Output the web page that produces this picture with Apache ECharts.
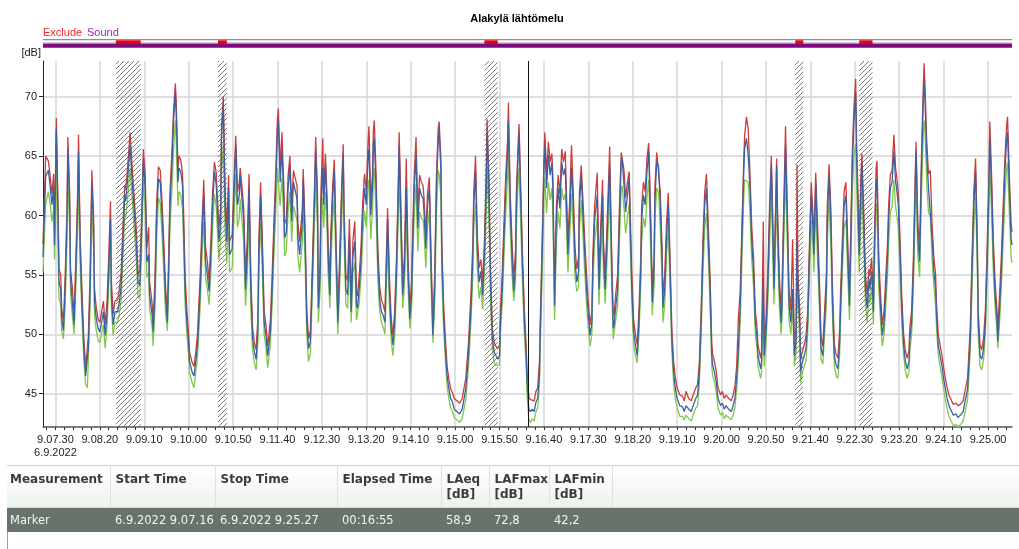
<!DOCTYPE html>
<html>
<head>
<meta charset="utf-8">
<title>Alakylä lähtömelu</title>
<script src="https://cdn.jsdelivr.net/npm/echarts@6/dist/echarts.min.js"></script>
<style>
  html, body { margin: 0; padding: 0; background: #fff; }
  #chart { position: absolute; left: 0; top: 0; width: 1019px; height: 549px; }
  #tbl { position: absolute; left: 7px; top: 465px; }
  #tbl table { border-collapse: collapse; table-layout: fixed; width: 1012px;
    font-family: "DejaVu Sans", sans-serif; font-size: 12px; }
  #tbl th { height: 35px; padding: 6px 0 0 5px; text-align: left; vertical-align: top;
    line-height: 15px; font-weight: bold; color: #3b3b3b;
    background: linear-gradient(#ffffff, #edf2ed);
    border-top: 1px solid #d4d4d4; border-right: 1px solid #dde2dd; border-bottom: 1px solid #d3dbd3; }
  #tbl th:last-child { border-right: none; }
  #tbl td { height: 24px; padding: 0 0 0 5px; background: #67736b; color: #f4f4f4; white-space: nowrap; font-size: 11.5px; }
  #tbl th:first-child, #tbl td:first-child { padding-left: 3px; }
  #below { position: absolute; left: 7px; top: 532px; height: 17px; border-left: 1px solid #a0a0a0; }
</style>
</head>
<body>
<div id="chart"></div>
<div id="tbl"></div>
<div id="below"></div>
<script>
// 9.07.16 .. 9.25.27 as seconds of the day
const START = 32836;
const END = 33927;
const DATE = '6.9.2022';

const xTickLabels = ['9.07.30', '9.08.20', '9.09.10', '9.10.00', '9.10.50', '9.11.40', '9.12.30', '9.13.20',
  '9.14.10', '9.15.00', '9.15.50', '9.16.40', '9.17.30', '9.18.20', '9.19.10', '9.20.00', '9.20.50',
  '9.21.40', '9.22.30', '9.23.20', '9.24.10', '9.25.00'];
const yTicks = [45, 50, 55, 60, 65, 70];

// seconds from start
const times = [
  0,3,6,8,10,12,13,15,17,18, 20,21,23,25,27,28,30,31,33,35, 37,39,40,41,42,44,46,48,50,51,
  53,55,57,58,60,62,64,66,68,70, 72,74,76,77,79,81,84,86,88,90, 92,93,95,97,98,100,102,105,107,109,
  111,113,115,117,119,120,123,124,126,128, 130,132,134,136,138,140,141,143,145,147,
  149,150,152,153,155,157,158,160,162,164, 165,168,170,172,174,177,179,181,183,185,
  187,189,191,193,195,198,200,201,203,205, 207,209,210,213,215,217,219,221,222,224,
  226,228,230,232,234,236,238,240,242,243, 245,247,249,251,253,256,258,260,262,264,
  265,267,269,271,272,274,276,278,280,282, 284,286,287,289,292,293,295,297,299,301,
  302,304,306,307,309,310,312,313,315,316, 318,320,321,323,324,326,328,330,332,334,
  336,338,339,341,343,345,347,349,351,353, 354,356,358,360,362,364,366,367,369,371,
  372,373,375,377,379,381,383,385,386,388, 390,392,394,396,398,400,401,403,405,407,
  409,411,413,415,416,418,420,422,424,426, 428,429,431,433,435,437,439,441,443,445,
  446,448,449,451,453,455,457,459,461,463, 466,469,472,476,479,482,484,485,487,489,
  491,493,495,497,499,500,502,504,506,508, 510,512,514,515,517,519,521,523,524,526,
  528,530,532,533,535,536,538,540,542,544, 545,547,549,551,553,555,557,559,560,562,
  564,565,567,569,571,573,574,576,578,580, 582,584,586,588,589,591,593,595,597,599,
  601,603,604,606,608,610,612,614,616,618, 619,621,624,626,628,630,631,633,635,637,
  638,640,642,643,645,647,649,651,652,654, 656,658,660,661,663,665,667,669,671,673,
  674,676,678,680,682,684,686,688,689,691, 693,695,697,698,700,702,704,706,708,710,
  712,714,717,720,722,724,727,730,732,735, 737,739,741,743,745,747,749,751,753,754,
  756,758,760,763,765,767,769,772,775,777, 779,781,783,785,787,789,790,792,794,796,
  798,800,802,804,805,808,809,811,812,814, 816,818,820,821,823,824,826,827,829,831,
  832,834,836,838,840,842,844,846,848,849, 850,852,853,855,857,859,861,863,865,867,
  868,870,872,874,876,878,880,882,883,885, 887,889,891,893,895,897,898,900,902,904,
  906,908,910,911,913,915,916,918,919,921, 922,924,926,928,930,931,933,935,936,938,
  939,941,943,945,947,949,951,952,954,956, 958,960,961,963,965,967,969,971,973,975,
  976,978,980,982,983,985,987,989,991,992, 993,995,997,999,1001,1003,1005,1006,1008,1010,
  1012,1014,1016,1018,1020,1023,1025,1028,1030,1033, 1036,1038,1041,1042,1044,1046,1048,1050,1052,1053,
  1055,1057,1059,1061,1063,1065,1066,1068,1070,1072, 1074,1075,1077,1079,1081,1083,1085,1086,1088,1090,
  1091
];

const laeq = [
  56.5,63.3,63.8,62.5,60.9,62.3,57.5,67.3,59.5,54.4, 53.8,51.3,50.3,53.8,59.5,65.6,60.9,54.7,52.7,50.8,
  55.3,60.9,65.4,60.9,56.7,52.4,48.8,46.5,46.4,48.8, 53.8,62.6,58.9,52.7,51.3,50.5,50.2,51.0,51.9,49.9,
  51.6,55.3,59.7,53.3,50.8,51.9,51.9,52.7,54.1,57.8, 61.7,61.2,62.8,64.8,65.9,63.4,61.2,57.8,54.4,54.1,
  58.6,64.8,62.3,56.1,56.7,53.3,51.6,50.2,53.3,60.0, 63.1,62.8,60.0,56.7,53.0,51.0,53.8,60.9,64.0,67.9,
  70.4,68.5,62.8,64.0,63.7,62.6,60.0,53.8,51.0,49.1, 47.7,46.8,46.5,47.7,49.1,53.8,58.1,61.7,56.1,55.0,
  53.6,56.7,60.9,63.7,62.6,57.8,59.5,66.5,69.3,60.9, 57.8,62.3,56.7,57.2,61.7,65.9,60.9,61.7,63.4,61.4,
  59.5,53.8,56.7,62.3,53.8,49.6,48.5,47.9,50.5,56.7, 61.7,56.7,51.0,49.9,48.2,50.2,53.8,58.3,62.3,67.3,
  67.9,62.8,65.6,61.7,58.1,58.6,62.3,64.2,59.5,62.8, 62.8,61.4,58.1,56.7,59.5,63.1,58.1,51.0,48.8,49.4,
  51.6,56.7,62.3,65.6,60.9,52.2,55.0,60.9,64.0,60.9, 64.2,60.0,56.7,53.3,57.2,61.2,63.7,56.7,51.0,55.3,
  60.9,65.1,59.5,53.8,53.3,58.1,51.9,56.7,57.8,52.4, 52.2,53.8,56.1,60.0,62.3,60.9,65.1,65.6,60.0,62.3,
  66.2,66.5,62.3,56.1,53.0,51.9,51.6,51.0,53.8,59.7, 53.8,50.5,49.1,51.0,55.3,61.7,65.9,59.5,53.3,55.5,
  62.3,55.3,51.3,53.3,56.7,62.3,65.1,58.9,62.3,61.7, 61.4,60.3,57.2,60.9,62.3,55.3,49.9,53.8,62.3,66.5,
  67.3,63.7,56.7,51.6,48.8,46.5,45.4,44.6,44.3,43.7, 43.5,43.3,43.7,45.4,48.2,52.4,56.7,60.9,63.7,57.2,
  54.4,55.3,53.3,56.7,62.3,67.0,62.3,53.8,49.6,48.5, 48.2,47.9,48.2,51.0,53.8,58.1,62.3,65.1,67.9,60.9,
  56.7,53.6,55.8,60.9,65.1,66.8,60.9,55.3,51.0,48.2, 46.0,43.7,43.5,43.7,43.5,44.3,44.6,46.8,50.5,56.7,
  63.7,65.9,62.3,65.1,63.4,64.5,62.3,52.4,59.5,62.3, 60.6,64.5,63.4,64.0,61.7,56.7,60.0,64.0,60.9,56.1,
  54.4,55.3,60.9,63.4,60.0,56.7,53.8,51.6,49.9,51.0, 55.3,59.5,61.7,53.8,58.1,61.7,56.7,53.8,57.8,62.3,
  64.2,56.7,50.5,50.8,52.4,53.8,59.5,64.5,64.8,62.8, 60.3,61.7,63.1,59.5,53.8,50.2,49.1,48.2,51.0,55.3,
  59.5,61.7,60.9,63.7,65.4,59.5,52.7,55.3,61.4,64.5, 64.2,60.9,56.1,52.2,53.8,58.1,60.9,55.3,49.6,46.8,
  45.4,44.6,44.0,43.9,43.5,44.0,43.7,43.5,44.0,44.6, 44.9,46.8,51.0,56.7,60.9,62.3,58.1,53.8,48.2,47.4,
  46.8,46.0,44.6,44.0,44.2,43.7,44.0,43.7,43.5,44.0, 44.6,46.3,48.8,52.4,58.1,63.7,65.6,66.5,65.1,62.3,
  57.8,55.3,51.0,49.6,48.2,47.1,47.7,54.7,48.2,50.2, 53.8,59.5,64.2,60.9,53.8,56.7,64.2,59.5,53.8,51.0,
  52.4,59.5,65.9,59.5,52.4,51.0,53.8,48.2,49.6,57.8, 53.8,51.0,46.8,47.7,48.2,48.8,51.0,56.7,61.7,58.9,
  56.7,62.8,58.1,53.8,48.8,48.2,51.0,53.8,59.5,63.4, 59.5,52.4,48.2,47.4,47.1,49.4,52.4,56.7,60.9,61.7,
  56.7,52.4,59.5,63.7,67.9,70.4,65.1,59.5,56.7,62.3, 64.2,59.5,53.8,52.2,54.7,53.8,55.3,51.9,56.7,62.8,
  63.1,55.3,52.2,49.9,51.0,53.8,56.7,59.5,62.3,62.8, 65.4,62.8,62.3,60.9,56.7,51.9,49.1,47.7,47.1,47.7,
  49.6,51.0,55.3,62.3,65.4,58.1,56.1,63.7,69.3,71.3, 69.9,65.1,62.3,62.3,58.1,55.3,53.8,51.6,49.1,48.2,
  47.4,46.3,45.4,44.6,44.0,43.5,43.2,43.3,43.0,43.2, 43.5,44.3,45.4,46.8,49.6,55.3,60.9,63.7,56.7,51.0,
  48.2,47.9,48.8,51.0,56.1,62.3,66.5,62.3,56.7,53.3, 51.3,49.4,52.2,55.3,59.5,63.7,66.5,67.0,62.3,58.1,
  57.5
];

const lafmax = [
  57.6,65.0,64.6,63.4,61.8,63.5,58.5,68.2,60.5,55.5, 55.0,52.2,51.0,55.0,60.6,66.6,62.0,55.4,54.0,51.5,
  56.4,62.0,66.8,62.0,57.8,53.5,49.6,47.2,47.3,49.8, 55.0,63.8,60.0,53.8,52.2,51.3,51.0,51.9,52.8,50.8,
  52.6,56.5,61.2,54.5,51.7,52.8,52.9,53.8,55.2,59.0, 62.5,62.2,63.8,65.8,67.0,64.5,62.3,58.9,55.0,55.3,
  59.8,65.6,63.5,57.3,59.0,54.4,52.5,51.0,54.5,61.2, 64.1,63.8,61.2,57.8,54.0,51.8,54.9,62.0,65.1,68.9,
  71.1,69.6,63.9,65.0,64.7,63.6,61.2,55.0,52.0,50.0, 48.5,47.6,47.3,48.5,50.1,55.0,59.3,63.0,57.4,56.2,
  54.5,57.9,62.0,64.5,63.6,59.0,60.6,67.5,70.0,62.0, 59.0,63.4,57.8,58.4,62.8,66.7,62.0,62.8,64.0,62.5,
  60.6,55.0,57.8,63.5,55.0,50.5,49.3,48.7,51.5,57.9, 62.8,57.9,52.0,50.8,49.0,51.2,55.0,59.5,63.5,68.2,
  69.0,64.0,67.0,62.8,59.3,59.7,63.4,65.0,60.7,63.8, 63.8,62.5,59.3,57.8,60.6,63.9,59.3,52.1,49.6,50.3,
  52.6,57.9,63.4,66.6,62.0,53.2,56.2,62.2,66.5,62.0, 65.2,61.2,57.8,54.4,58.4,62.3,64.7,57.8,51.9,56.5,
  62.0,66.0,60.7,55.0,54.5,59.7,52.9,57.9,59.5,53.5, 53.2,54.9,57.3,61.2,63.5,62.0,66.2,67.5,61.2,63.5,
  67.2,68.0,63.5,57.3,54.1,52.9,52.5,51.9,55.0,60.6, 55.0,51.4,49.9,52.0,56.5,62.8,67.0,60.7,54.4,56.7,
  64.8,56.5,52.2,54.4,57.9,63.5,66.6,60.1,63.4,62.8, 62.5,61.4,58.4,62.0,63.2,56.5,50.8,55.0,63.4,67.4,
  67.9,64.8,57.9,52.6,49.7,47.3,46.2,45.4,45.1,44.6, 44.4,44.2,44.6,46.3,49.2,53.6,57.9,62.0,65.0,58.4,
  55.6,56.3,54.4,57.9,63.5,68.1,63.5,55.0,50.5,49.3, 49.0,48.8,49.1,52.0,55.0,59.3,63.4,66.2,69.5,62.0,
  57.9,54.6,57.0,62.0,66.2,67.7,62.0,56.5,52.0,49.1, 46.9,44.7,44.5,44.6,44.4,45.2,45.5,47.8,51.6,57.9,
  64.8,67.0,63.5,66.2,64.5,65.2,63.5,53.6,60.7,63.4, 61.8,65.6,64.5,65.4,62.8,57.9,61.2,65.9,62.0,57.3,
  55.5,56.5,62.0,64.2,61.2,57.9,55.0,52.6,50.8,52.0, 56.5,60.7,63.6,55.0,59.3,63.0,57.9,55.0,59.0,63.4,
  65.8,57.9,51.5,51.7,53.5,55.0,60.7,65.3,65.4,63.9, 61.5,62.8,63.7,60.7,55.0,51.2,50.0,49.1,52.0,56.5,
  60.7,62.8,62.0,64.8,66.1,60.7,53.8,56.5,62.5,65.3, 65.3,62.0,57.3,53.3,55.0,59.3,61.9,56.5,50.6,47.7,
  46.3,45.5,44.9,44.8,44.4,45.2,44.6,44.4,44.9,45.5, 45.8,47.7,52.1,57.9,62.0,63.5,59.3,55.0,49.2,48.3,
  47.7,46.9,45.5,44.9,45.2,44.6,44.9,44.6,44.4,44.9, 45.6,47.3,51.5,53.6,59.3,64.8,66.7,68.3,67.3,63.5,
  59.0,56.5,52.0,50.5,49.1,48.0,48.6,59.5,49.2,51.2, 55.0,60.7,65.0,62.0,55.0,57.9,64.8,60.7,55.0,52.0,
  53.5,60.7,67.5,60.7,53.6,52.0,58.0,49.2,50.6,64.3, 55.0,52.0,47.8,48.6,49.1,49.8,52.0,57.9,62.8,60.0,
  57.9,63.6,59.3,55.0,49.8,49.0,52.0,55.0,60.7,64.3, 60.7,53.6,49.2,48.3,48.0,50.4,53.6,57.9,62.0,62.8,
  57.9,53.6,60.7,64.8,69.0,71.5,66.3,60.7,57.9,63.5, 65.2,60.7,55.0,53.3,55.5,55.0,56.4,52.9,57.9,64.0,
  64.6,56.5,53.3,50.8,52.0,55.0,57.9,60.7,63.4,63.8, 66.8,63.9,63.4,62.0,57.9,53.0,50.0,48.6,48.0,48.6,
  50.6,52.0,56.5,63.4,66.2,59.3,57.3,64.8,70.5,72.8, 71.0,66.2,63.5,63.8,59.3,56.5,55.0,52.6,50.0,49.1,
  48.3,47.2,46.3,45.5,44.9,44.4,44.1,44.2,44.0,44.1, 44.4,45.2,46.3,47.8,50.6,56.5,62.0,64.8,57.9,52.0,
  49.1,48.7,49.7,52.0,57.3,63.4,67.9,63.4,57.9,54.4, 52.2,50.3,53.3,56.5,60.7,64.8,67.6,68.3,63.4,59.3,
  58.6
];

const lafmin = [
  55.2,61.0,62.0,61.0,59.5,60.5,56.3,64.0,57.0,53.0, 52.5,50.3,49.6,52.5,57.8,63.0,59.0,53.5,51.6,50.0,
  54.0,59.0,63.0,59.3,55.3,51.2,47.8,45.8,45.5,47.8, 52.3,60.5,57.2,51.5,50.3,49.5,49.3,50.1,50.8,48.8,
  50.5,54.0,57.5,52.2,49.9,51.0,51.0,51.7,53.0,56.4, 60.0,59.8,61.2,63.0,64.0,61.8,59.6,56.3,53.2,53.0,
  57.0,63.0,60.5,54.8,55.2,52.2,50.5,49.0,52.0,58.2, 61.5,61.0,58.4,55.3,51.8,50.3,52.6,59.0,62.0,65.5,
  68.0,66.2,60.8,62.0,61.8,60.6,58.3,52.5,50.0,48.2, 46.8,45.9,45.5,46.8,48.2,52.4,56.5,59.5,54.8,53.8,
  52.5,55.2,59.2,61.8,60.8,56.3,57.8,63.5,66.0,58.8, 56.0,60.4,55.2,55.6,59.8,63.5,59.0,59.8,61.4,59.6,
  57.8,52.4,55.0,60.2,52.3,48.6,47.6,47.0,49.4,55.0, 59.5,55.2,50.0,48.9,47.2,49.2,52.5,56.6,60.4,64.0,
  64.0,60.8,63.2,59.8,56.6,57.0,60.4,62.0,57.8,60.8, 60.8,59.6,56.6,55.2,57.8,61.0,56.5,50.0,47.7,48.4,
  50.5,55.2,60.2,63.0,59.0,51.0,53.8,59.0,61.5,59.0, 62.0,58.3,55.2,52.2,55.6,59.4,61.5,55.2,50.0,54.0,
  59.0,62.8,57.8,52.5,52.2,56.4,51.0,55.2,56.0,51.2, 51.2,52.6,54.7,58.2,60.4,59.0,62.8,63.0,58.0,60.4,
  63.5,64.0,60.2,54.7,52.0,51.0,50.6,50.0,52.5,57.8, 52.4,49.5,48.2,50.0,54.0,59.8,63.5,57.6,52.2,54.2,
  60.2,54.0,50.5,52.2,55.2,60.2,62.6,57.0,60.3,59.8, 59.6,58.6,55.6,59.0,60.4,54.0,49.3,52.5,60.2,63.8,
  63.5,61.6,55.2,50.6,47.9,45.6,44.6,43.8,43.5,43.0, 42.8,42.6,42.9,44.5,47.2,51.2,55.2,59.0,61.0,55.6,
  53.0,54.0,52.1,55.2,60.2,64.0,60.0,52.3,48.7,47.6, 47.4,47.3,47.4,50.0,52.5,56.5,60.3,63.0,65.0,59.0,
  55.2,52.8,54.4,59.0,63.0,64.0,59.0,54.0,50.0,47.3, 45.0,42.8,42.6,42.9,42.7,43.5,43.8,45.8,49.4,55.0,
  61.5,63.2,60.2,62.8,61.3,62.3,60.2,51.2,57.8,60.3, 58.9,62.3,61.3,61.8,59.8,55.2,58.2,61.8,59.0,54.8,
  53.6,54.0,59.0,61.3,58.2,55.2,52.5,50.5,49.0,50.0, 54.0,57.8,59.8,52.5,56.5,59.8,55.2,52.6,56.2,60.2,
  62.0,55.2,49.6,49.5,51.3,52.5,57.8,62.3,62.5,60.8, 58.5,59.8,61.0,57.8,52.5,49.2,48.2,47.6,50.0,54.0,
  57.8,59.8,59.0,61.5,63.0,57.8,51.6,54.0,59.6,62.3, 62.0,59.0,54.8,51.0,52.5,56.5,59.0,54.0,48.6,45.9,
  44.5,43.8,43.1,43.1,42.8,43.2,42.9,42.7,43.2,43.8, 44.0,45.9,50.0,55.2,59.0,60.2,56.5,52.5,47.3,46.5,
  46.0,45.2,43.8,43.2,43.4,42.9,43.2,43.0,42.8,43.2, 43.8,45.4,47.8,51.2,56.4,61.5,63.0,63.0,62.8,60.2,
  56.2,54.0,50.0,48.7,47.3,46.3,46.8,52.0,47.3,49.2, 52.5,57.6,62.0,59.0,52.5,55.2,62.0,57.6,52.5,50.0,
  51.2,57.6,63.5,57.6,51.2,50.0,52.5,47.3,48.6,55.0, 52.5,50.0,45.9,46.8,47.3,47.8,50.0,55.2,59.6,57.2,
  55.2,60.8,56.5,52.5,47.9,47.5,50.0,52.5,57.6,61.2, 57.6,51.2,47.3,46.5,46.3,48.4,51.2,55.2,59.0,59.6,
  55.2,51.2,57.6,61.5,65.0,66.0,62.8,57.6,55.2,60.2, 62.0,57.6,52.5,51.0,53.5,52.6,54.0,50.8,55.2,60.7,
  61.0,54.0,51.0,49.0,50.0,52.5,55.2,57.6,60.2,60.8, 63.0,60.7,60.2,59.0,55.2,50.8,48.2,46.9,46.3,46.9,
  48.6,50.0,54.0,60.2,63.0,56.5,54.8,61.5,66.5,68.0, 67.2,62.8,60.2,60.0,56.5,54.0,52.5,50.5,48.2,47.3,
  46.5,45.4,44.5,43.7,43.1,42.6,42.3,42.4,42.2,42.4, 42.7,43.4,44.5,45.8,48.6,53.8,59.0,61.5,55.2,50.0,
  47.3,47.0,47.9,50.0,54.8,60.2,64.0,60.2,55.2,52.2, 50.4,48.8,51.0,54.0,57.6,61.5,64.0,64.5,60.2,56.5,
  56.0
];

// excluded periods (seconds from start) and cursor position
const excludeRanges = [[82, 110], [197, 207], [497, 512], [847, 856], [919, 934]];
const cursorAt = 546;

const tableHead = ['Measurement', 'Start Time', 'Stop Time', 'Elapsed Time', 'LAeq<br>[dB]', 'LAFmax<br>[dB]', 'LAFmin<br>[dB]', ''];
const tableRow = ['Marker', '6.9.2022 9.07.16', '6.9.2022 9.25.27', '00:16:55', '58,9', '72,8', '42,2', ''];
const colWidths = [103, 105, 122, 104, 48, 60, 63, 407];

// --- table
let html = '<table><colgroup>' + colWidths.map(w => '<col style="width:' + w + 'px">').join('') + '</colgroup>';
html += '<tr>' + tableHead.map(h => '<th>' + h + '</th>').join('') + '</tr>';
html += '<tr>' + tableRow.map(v => '<td>' + v + '</td>').join('') + '</tr></table>';
document.getElementById('tbl').innerHTML = html;

// --- chart
function toSec(s) {
  const p = s.split('.').map(Number);
  return p[0] * 3600 + p[1] * 60 + p[2];
}
const labelSecs = xTickLabels.map(toSec);
const minorSecs = [];
for (let v = Math.ceil(START / 10) * 10; v <= END; v += 10) minorSecs.push(v);

function hatch() {
  const c = document.createElement('canvas');
  c.width = 5; c.height = 5;
  const g = c.getContext('2d');
  g.strokeStyle = '#5a5a5a';
  g.lineWidth = 0.8;
  g.beginPath();
  g.moveTo(0, 5); g.lineTo(5, 0);
  g.moveTo(-1, 1); g.lineTo(1, -1);
  g.moveTo(4, 6); g.lineTo(6, 4);
  g.stroke();
  return c;
}

const pts = arr => times.map((t, i) => [START + t, arr[i]]);
const FONT = 'Liberation Sans';

const line = (name, arr, color, z) => ({
  name, type: 'line', data: pts(arr), color, z,
  showSymbol: false, symbol: 'none', silent: true,
  lineStyle: { width: 1.3, color }
});

const chart = echarts.init(document.getElementById('chart'));
const option = {
  animation: false,
  backgroundColor: '#fff',
  textStyle: { fontFamily: FONT },
  graphic: [
    { type: 'text', x: 517, y: 19, style: { text: 'Alakylä lähtömelu', font: 'bold 11px "Liberation Sans"', fill: '#000', align: 'center', verticalAlign: 'middle' } },
    { type: 'text', x: 43, y: 33, style: { text: 'Exclude', font: '11px "Liberation Sans"', fill: '#ff1f2f', verticalAlign: 'middle' } },
    { type: 'text', x: 87, y: 33, style: { text: 'Sound', font: '11px "Liberation Sans"', fill: '#a12aa1', verticalAlign: 'middle' } }
  ],
  grid: [
    { left: 43, right: 7, top: 61, bottom: 122 },
    { left: 43, right: 7, top: 39, height: 9 }
  ],
  xAxis: [
    {
      type: 'value', gridIndex: 0, min: START, max: END, position: 'bottom',
      axisLine: { show: true, lineStyle: { color: '#555', width: 1.5 } },
      axisTick: { show: false, customValues: labelSecs },
      axisLabel: {
        customValues: labelSecs, color: '#222', fontSize: 11, fontFamily: FONT, margin: 6, lineHeight: 13,
        formatter: v => {
          const i = labelSecs.indexOf(v);
          const s = i >= 0 ? xTickLabels[i] : '';
          return i === 0 ? s + '\n' + DATE : s;
        }
      },
      splitLine: { show: true, lineStyle: { color: '#d7d7d7', width: 1.5 } }
    },
    { type: 'value', gridIndex: 1, min: START, max: END, show: false },
    {
      type: 'value', gridIndex: 0, min: START, max: END, position: 'bottom',
      axisLine: { show: false }, axisLabel: { show: false }, splitLine: { show: false },
      axisTick: { show: true, customValues: minorSecs, length: 3, lineStyle: { color: '#333' } }
    }
  ],
  yAxis: [
    {
      type: 'value', gridIndex: 0, min: 42.2, max: 73.0,
      name: '[dB]', nameLocation: 'end', nameGap: 3,
      nameTextStyle: { align: 'right', verticalAlign: 'bottom', color: '#222', fontSize: 11, fontFamily: FONT, padding: [0, 2, 0, 0] },
      axisLine: { show: true, lineStyle: { color: '#222', width: 1 } },
      axisTick: { show: true, customValues: yTicks, length: 4, lineStyle: { color: '#222' } },
      axisLabel: { customValues: yTicks, color: '#222', fontSize: 11, fontFamily: FONT, margin: 6 },
      splitLine: { show: true, lineStyle: { color: '#d3d3d3', width: 1.5 } }
    },
    { type: 'value', gridIndex: 1, min: 0, max: 9, show: false }
  ],
  series: [
    line('LAFmax', lafmax, '#cd3b3b', 2),
    line('LAFmin', lafmin, '#82c74c', 3),
    Object.assign(line('LAeq', laeq, '#3a62a2', 4), {
      markArea: {
        silent: true, z: 5,
        label: { show: false },
        itemStyle: { color: { image: hatch(), repeat: 'repeat' } },
        data: excludeRanges.map(r => [{ xAxis: START + r[0] }, { xAxis: START + r[1] }])
      },
      markLine: {
        silent: true, symbol: 'none', label: { show: false },
        lineStyle: { color: '#111', width: 1, type: 'solid' },
        data: [{ xAxis: START + cursorAt }]
      }
    }),
    {
      type: 'line', xAxisIndex: 1, yAxisIndex: 1, silent: true,
      data: [[START, 0], [END, 0]], symbol: 'none', lineStyle: { opacity: 0 },
      markArea: {
        silent: true, label: { show: false },
        data: [
          [{ xAxis: START, yAxis: 7.7, itemStyle: { color: '#8e8e8e' } }, { xAxis: END, yAxis: 9 }],
          [{ xAxis: START, yAxis: 4.3, itemStyle: { color: '#c08ac0' } }, { xAxis: END, yAxis: 5.6 }],
          [{ xAxis: START, yAxis: 0.3, itemStyle: { color: '#7c0b7c' } }, { xAxis: END, yAxis: 4.3 }]
        ].concat(excludeRanges.map(r => [
          { xAxis: START + r[0], yAxis: 4.0, itemStyle: { color: '#e8000f' } },
          { xAxis: START + r[1], yAxis: 7.7 }
        ]))
      }
    }
  ]
};
chart.setOption(option);
</script>
</body>
</html>
